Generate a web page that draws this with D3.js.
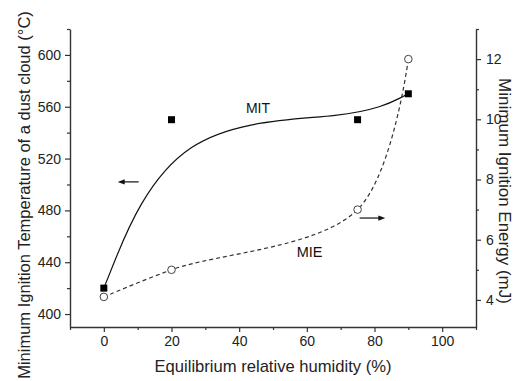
<!DOCTYPE html>
<html>
<head>
<meta charset="utf-8">
<script src="https://cdn.jsdelivr.net/npm/d3@7/dist/d3.min.js"></script>
<style>
  html, body { margin: 0; padding: 0; background: #fff; }
  svg { display: block; font-family: "Liberation Sans", Arial, sans-serif; }
</style>
</head>
<body>
<svg id="chart" width="513" height="381"></svg>
<script>
// Equilibrium relative humidity (%)
const humidity = [0, 20, 75, 90];
// Minimum ignition temperature of the dust cloud (°C), left axis
const mitValues = [420, 550, 550, 570];
// Minimum ignition energy (mJ), right axis
const mieValues = [4.1, 5, 7, 12];

const xTicks = [0, 20, 40, 60, 80, 100];
const xMinorTicks = [-10, 10, 30, 50, 70, 90, 110];
const leftTicks = [400, 440, 480, 520, 560, 600];
const leftMinorTicks = [420, 460, 500, 540, 580, 620];
const rightTicks = [4, 6, 8, 10, 12];
const rightMinorTicks = [5, 7, 9, 11, 13];

const svg = d3.select("#chart");
const plot = { left: 70, right: 476, top: 29, bottom: 327 };
const axisColor = "#333";

const x = d3.scaleLinear().domain([-10, 110]).range([plot.left, plot.right]);
const yL = d3.scaleLinear().domain([390, 620]).range([plot.bottom, plot.top]);
const yR = d3.scaleLinear().domain([3.1, 13]).range([plot.bottom, plot.top]);

svg.append("rect").attr("width", 513).attr("height", 381).attr("fill", "#fff");

function styleAxis(g, fontSize) {
  g.select(".domain").attr("stroke", axisColor).attr("stroke-width", 1.4);
  g.selectAll(".tick line").attr("stroke", axisColor).attr("stroke-width", 1.2);
  g.selectAll(".tick text")
    .attr("fill", "#222")
    .style("font-size", fontSize + "px")
    .style("font-family", "'Liberation Sans', Arial, sans-serif");
}

// minor ticks first so the main axis line sits on top
svg.append("g").attr("transform", `translate(0,${plot.bottom})`)
  .call(d3.axisBottom(x).tickValues(xMinorTicks).tickSize(3).tickFormat(""))
  .call(g => { styleAxis(g, 14); g.select(".domain").remove(); });
svg.append("g").attr("transform", `translate(${plot.left},0)`)
  .call(d3.axisLeft(yL).tickValues(leftMinorTicks).tickSize(3).tickFormat(""))
  .call(g => { styleAxis(g, 14); g.select(".domain").remove(); });
svg.append("g").attr("transform", `translate(${plot.right},0)`)
  .call(d3.axisRight(yR).tickValues(rightMinorTicks).tickSize(3).tickFormat(""))
  .call(g => { styleAxis(g, 14); g.select(".domain").remove(); });

svg.append("g").attr("transform", `translate(0,${plot.bottom})`)
  .call(d3.axisBottom(x).tickValues(xTicks).tickSize(5).tickSizeOuter(0).tickPadding(4))
  .call(g => styleAxis(g, 14));
svg.append("g").attr("transform", `translate(${plot.left},0)`)
  .call(d3.axisLeft(yL).tickValues(leftTicks).tickSize(5).tickSizeOuter(0).tickPadding(4))
  .call(g => styleAxis(g, 14));
svg.append("g").attr("transform", `translate(${plot.right},0)`)
  .call(d3.axisRight(yR).tickValues(rightTicks).tickSize(5).tickSizeOuter(0).tickPadding(5))
  .call(g => styleAxis(g, 14));

// axis titles
svg.append("text")
  .attr("x", (plot.left + plot.right) / 2).attr("y", 372)
  .attr("text-anchor", "middle").attr("fill", "#222")
  .style("font-size", "16.6px")
  .text("Equilibrium relative humidity (%)");
svg.append("text")
  .attr("transform", `translate(30,${(plot.top + plot.bottom) / 2 + 17}) rotate(-90)`)
  .attr("text-anchor", "middle").attr("fill", "#222")
  .style("font-size", "16.5px")
  .text("Minimum Ignition Temperature of a dust cloud (°C)");
svg.append("text")
  .attr("transform", `translate(499,${(plot.top + plot.bottom) / 2 + 13}) rotate(90)`)
  .attr("text-anchor", "middle").attr("fill", "#222")
  .style("font-size", "17px")
  .text("Minimum Ignition Energy (mJ)");

const mitData = humidity.map((h, i) => [h, mitValues[i]]);
const mieData = humidity.map((h, i) => [h, mieValues[i]]);

// MIT smoothed trend (solid)
svg.append("path")
  .datum(mitData)
  .attr("fill", "none").attr("stroke", "#111").attr("stroke-width", 1.2)
  .attr("d", d3.line().x(d => x(d[0])).y(d => yL(d[1])).curve(d3.curveBasis));

// MIE spline through the points (dashed)
svg.append("path")
  .datum(mieData)
  .attr("fill", "none").attr("stroke", "#333").attr("stroke-width", 1.2)
  .attr("stroke-dasharray", "4,3")
  .attr("d", d3.line().x(d => x(d[0])).y(d => yR(d[1])).curve(d3.curveCatmullRom.alpha(0.5)));

// MIE markers: open circles
svg.append("g").selectAll("circle")
  .data(mieData).join("circle")
  .attr("cx", d => x(d[0])).attr("cy", d => yR(d[1])).attr("r", 3.8)
  .attr("fill", "#fff").attr("stroke", "#444").attr("stroke-width", 1);

// MIT markers: filled squares
svg.append("g").selectAll("rect")
  .data(mitData).join("rect")
  .attr("x", d => x(d[0]) - 3.5).attr("y", d => yL(d[1]) - 3.5)
  .attr("width", 7).attr("height", 7).attr("fill", "#000");

// series labels
svg.append("text").attr("x", x(42)).attr("y", yL(555))
  .attr("fill", "#111").style("font-size", "14px").text("MIT");
svg.append("text").attr("x", x(57)).attr("y", yR(5.43))
  .attr("fill", "#111").style("font-size", "14.5px").text("MIE");

// arrows pointing to the axis each curve belongs to
function arrow(x1, x2, y, dir) {
  const tip = dir < 0 ? x1 : x2;
  const tail = dir < 0 ? x2 : x1;
  svg.append("line")
    .attr("x1", tail).attr("x2", tip - dir * 5).attr("y1", y).attr("y2", y)
    .attr("stroke", "#111").attr("stroke-width", 1.2);
  svg.append("path")
    .attr("d", `M${tip},${y} L${tip - dir * 7},${y - 2.6} L${tip - dir * 7},${y + 2.6} Z`)
    .attr("fill", "#111");
}
arrow(x(4.1), x(10.3), yL(502), -1);
arrow(x(75.6), x(83.2), yR(6.72), 1);
</script>
</body>
</html>
